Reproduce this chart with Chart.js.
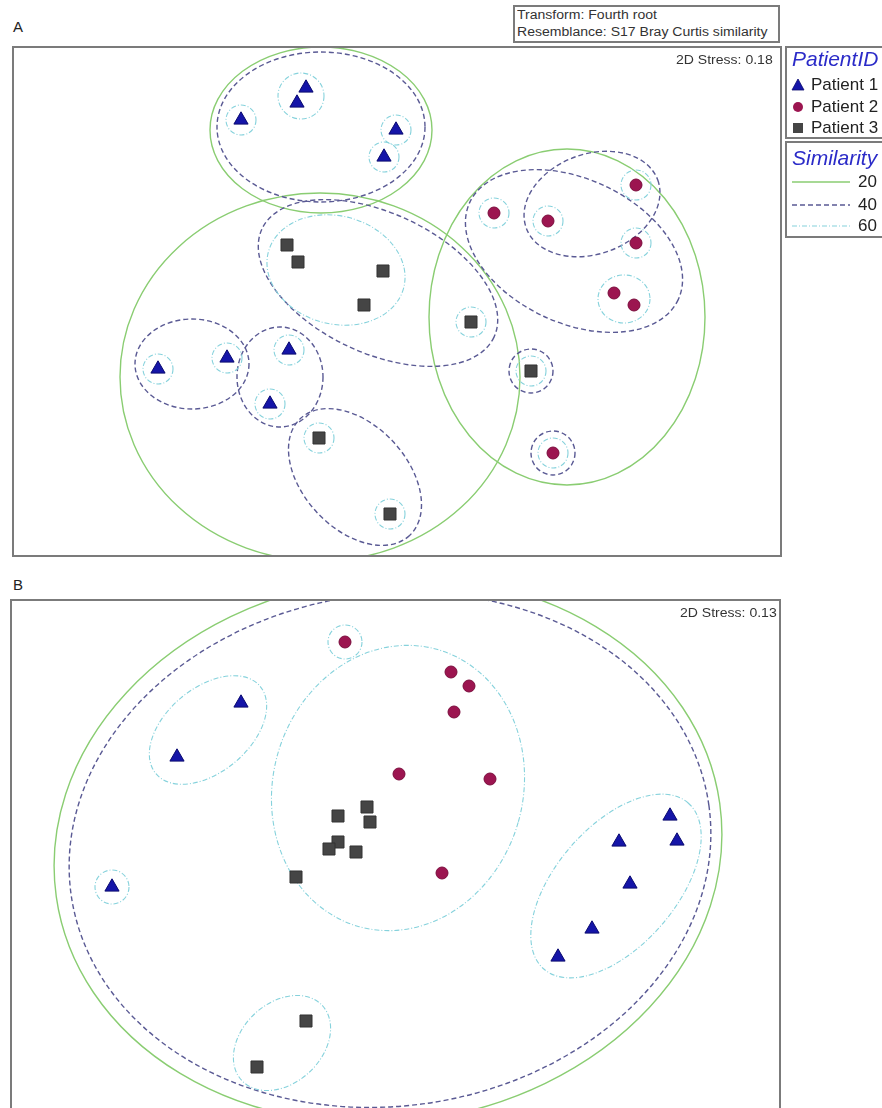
<!DOCTYPE html>
<html>
<head>
<meta charset="utf-8">
<script src="https://cdn.jsdelivr.net/npm/chart.js@4.4.1/dist/chart.umd.min.js"></script>
<style>
  body { margin: 0; width: 882px; height: 1108px; overflow: hidden; background: #fff;
         font-family: "Liberation Sans", Arial, sans-serif; position: relative; }
  .abs { position: absolute; }
  .box { position: absolute; border: 2px solid #7b7b7b; box-sizing: border-box; }
  .panel { position: absolute; font-size: 15px; color: #222; }
  .stretch { transform-origin: 0 0; transform: scaleX(1.17); white-space: nowrap; }
  .stress { position: absolute; font-size: 12px; color: #333; white-space: nowrap;
            transform-origin: 100% 50%; transform: translateY(-50%) scaleX(1.17); }
  .lg { position: absolute; white-space: nowrap; transform: translateY(-50%); }
  .lgtitle { font-style: italic; color: #2b2bc8; font-size: 21px; }
  .lgitem { font-size: 17px; color: #222; }
</style>
</head>
<body>

<div class="panel" style="left:13px;top:18px;">A</div>
<div class="panel" style="left:13px;top:576px;">B</div>

<div class="box" style="left:513px;top:5px;width:267px;height:38px;"></div>
<div class="abs stretch" style="left:517px;top:7px;font-size:12px;color:#333;line-height:17px;">Transform: Fourth root<br>Resemblance: S17 Bray Curtis similarity</div>

<div class="box" style="left:12px;top:46px;width:770px;height:511px;"></div>
<canvas id="chartA" class="abs" style="left:14px;top:48px;" width="766" height="507"></canvas>
<div class="stress" style="right:109px;top:60px;">2D Stress: 0.18</div>

<div class="box" style="left:10px;top:599px;width:771px;height:540px;"></div>
<canvas id="chartB" class="abs" style="left:12px;top:601px;" width="767" height="536"></canvas>
<div class="stress" style="right:105px;top:613px;">2D Stress: 0.13</div>

<!-- legend -->
<div class="box" style="left:785px;top:46px;width:120px;height:93px;"></div>
<div class="box" style="left:785px;top:141px;width:120px;height:97px;"></div>
<div class="lg lgtitle" style="left:792px;top:59px;">PatientID</div>
<div class="lg lgtitle" style="left:792px;top:158px;">Similarity</div>
<div id="legendItems"></div>
<svg class="abs" style="left:785px;top:46px;" width="97" height="195" id="legendSvg"></svg>

<script>
// panel A: positions (arbitrary MDS units)
var patient1A = [[306,88],[297,103],[241,120],[396,130],[384,157],[158,369],[227,358],[289,350],[270,404]];
var patient2A = [[636,185],[494,213],[548,221],[636,243],[614,293],[634,305],[553,453]];
var patient3A = [[287,245],[298,262],[383,271],[364,305],[471,322],[531,371],[319,438],[390,514]];

// panel B
var patient1B = [[241,703],[177,757],[112,887],[670,816],[619,842],[677,841],[630,884],[592,929],[558,957]];
var patient2B = [[345,642],[451,672],[469,686],[454,712],[399,774],[490,779],[442,873]];
var patient3B = [[338,816],[367,807],[370,822],[338,842],[329,849],[356,852],[296,877],[306,1021],[257,1067]];

// similarity contours: [centre x, centre y, half width, half height, tilt deg]
var sim20A = [[321,130,111,83,0],[320,377,200,184,0],[567,317,138,168,0]];
var sim40A = [[321,127,104,75,0],[378,283,128,70,25],[192,364,57,45,0],[280,377,43,50,0],
              [355,477,80,52,47],[574,251,115,72,25],[592,204,70,50,-20],[531,371,22,22,0],[553,453,22,22,0]];
var sim60A = [[241,120,15,15,0],[396,130,15,15,0],[384,157,15,15,0],[301,96,23,23,0],
              [158,369,15,15,0],[227,358,15,15,0],[289,350,15,15,0],[270,404,15,15,0],
              [319,438,15,15,0],[390,514,15,15,0],[336,270,70,54,15],
              [494,213,15,15,0],[548,221,15,15,0],[636,185,15,15,0],[636,243,15,15,0],
              [624,299,26,24,0],[471,322,15,15,0],[531,371,15,15,0],[553,453,15,15,0]];

var sim20B = [[388,850,335,272,-8]];
var sim40B = [[390,850,322,256,-8]];
var sim60B = [[345,642,17,17,0],[112,887,17,17,0],[208,730,68,42,-40],[398,788,125,144,16],
              [616,886,110,60,-49],[282,1043,55,40,-43]];

var simLevels = ['20', '40', '60'];
var simStyle = {
  '20': { color: '#8acd72', width: 1.4, dash: [] },
  '40': { color: '#5a5a94', width: 1.4, dash: [5, 3] },
  '60': { color: '#86d2dc', width: 1.1, dash: [5, 2, 1, 2] }
};

function toXY(arr) {
  return arr.map(function(p) { return { x: p[0], y: p[1] }; });
}

// draws the similarity ellipses in data units through the chart scales
var ellipsePlugin = {
  id: 'ellipses',
  beforeDatasetsDraw: function(chart, args, opts) {
    var ctx = chart.ctx, xs = chart.scales.x, ys = chart.scales.y, a = chart.chartArea;
    ctx.save();
    ctx.beginPath();
    ctx.rect(a.left, a.top, a.right - a.left, a.bottom - a.top);
    ctx.clip();
    opts.groups.forEach(function(g) {
      var st = simStyle[g.level];
      ctx.strokeStyle = st.color;
      ctx.lineWidth = st.width;
      ctx.setLineDash(st.dash);
      g.items.forEach(function(e) {
        var cx = xs.getPixelForValue(e[0]), cy = ys.getPixelForValue(e[1]);
        var rx = Math.abs(xs.getPixelForValue(e[0] + e[2]) - cx);
        var ry = Math.abs(ys.getPixelForValue(e[1] + e[3]) - cy);
        ctx.beginPath();
        ctx.ellipse(cx, cy, rx, ry, e[4] * Math.PI / 180, 0, Math.PI * 2);
        ctx.stroke();
      });
    });
    ctx.restore();
  }
};

function datasets(p1, p2, p3) {
  return [
    { label: 'Patient 1', data: toXY(p1), pointStyle: 'triangle', pointRadius: 8.2,
      backgroundColor: '#1515a8', borderColor: '#0a0a70', borderWidth: 1 },
    { label: 'Patient 2', data: toXY(p2), pointStyle: 'circle', pointRadius: 6,
      backgroundColor: '#9c1550', borderColor: '#7a0c3c', borderWidth: 1 },
    { label: 'Patient 3', data: toXY(p3), pointStyle: 'rect', pointRadius: 8.5,
      backgroundColor: '#454545', borderColor: '#333333', borderWidth: 1 }
  ];
}

function makeChart(id, p1, p2, p3, groups, xr, yr) {
  return new Chart(document.getElementById(id), {
    type: 'scatter',
    data: { datasets: datasets(p1, p2, p3) },
    options: {
      responsive: false,
      animation: false,
      devicePixelRatio: 1,
      events: [],
      layout: { padding: 0, autoPadding: false },
      scales: {
        x: { display: false, min: xr[0], max: xr[1] },
        y: { display: false, min: yr[0], max: yr[1], reverse: true }
      },
      plugins: {
        legend: { display: false },
        tooltip: { enabled: false },
        ellipses: { groups: groups }
      }
    },
    plugins: [ellipsePlugin]
  });
}

makeChart('chartA', patient1A, patient2A, patient3A,
  [{ level: '20', items: sim20A }, { level: '40', items: sim40A }, { level: '60', items: sim60A }],
  [14, 780], [48, 555]);
makeChart('chartB', patient1B, patient2B, patient3B,
  [{ level: '20', items: sim20B }, { level: '40', items: sim40B }, { level: '60', items: sim60B }],
  [12, 779], [601, 1137]);

// legend
var patients = ['Patient 1', 'Patient 2', 'Patient 3'];
var rowY = [85, 107, 128];
var simY = [182, 205, 226];
var html = '';
patients.forEach(function(p, i) {
  html += '<div class="lg lgitem" style="left:811px;top:' + rowY[i] + 'px;">' + p + '</div>';
});
simLevels.forEach(function(s, i) {
  html += '<div class="lg lgitem" style="left:858px;top:' + simY[i] + 'px;">' + s + '</div>';
});
document.getElementById('legendItems').innerHTML = html;

var svg = '';
var mx = 798 - 785;
svg += '<polygon points="' + (mx - 6) + ',' + (rowY[0] - 46 + 5) + ' ' + (mx + 6) + ',' + (rowY[0] - 46 + 5) + ' ' + mx + ',' + (rowY[0] - 46 - 6) + '" fill="#1515a8" stroke="#0a0a70" stroke-width="0.8"/>';
svg += '<circle cx="' + mx + '" cy="' + (rowY[1] - 46) + '" r="5" fill="#9c1550"/>';
svg += '<rect x="' + (mx - 5) + '" y="' + (rowY[2] - 46 - 5) + '" width="10" height="10" fill="#454545"/>';
simLevels.forEach(function(s, i) {
  var st = simStyle[s];
  svg += '<line x1="7" x2="65" y1="' + (simY[i] - 46) + '" y2="' + (simY[i] - 46) + '" stroke="' + st.color +
         '" stroke-width="' + st.width + '" stroke-dasharray="' + (st.dash.length ? st.dash.join(',') : 'none') + '"/>';
});
document.getElementById('legendSvg').innerHTML = svg;
</script>
</body>
</html>
